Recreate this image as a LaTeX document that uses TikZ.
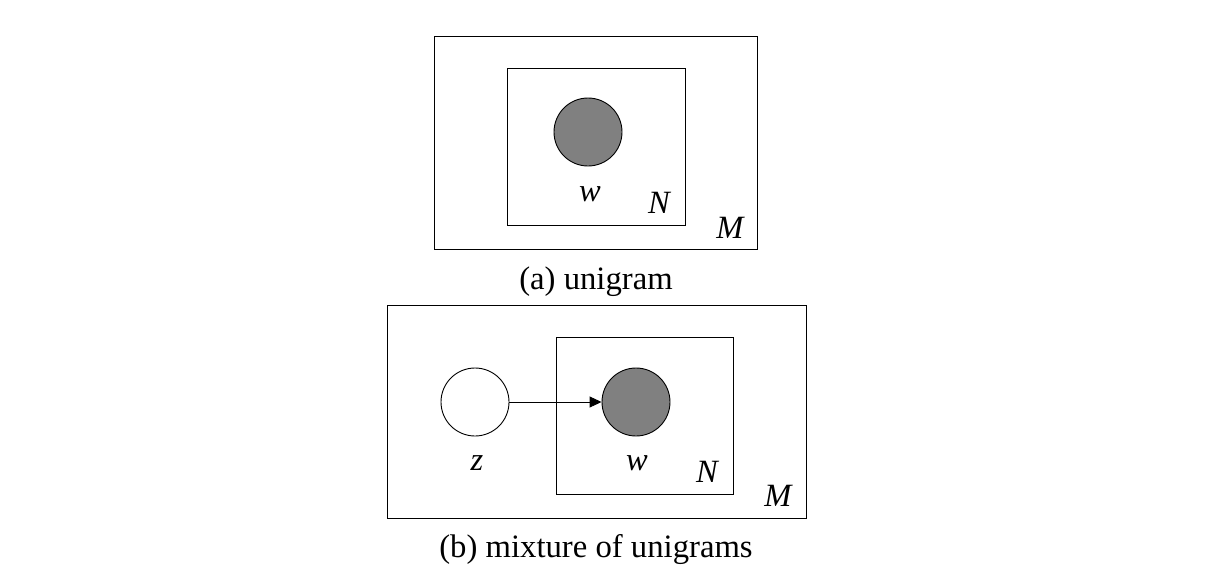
\documentclass[tikz,border=0pt]{standalone}
\usepackage{fontspec}
\setmainfont{Liberation Serif}
\usetikzlibrary{arrows.meta}
\tikzset{
  plate/.style={draw=black, line width=0.9pt, fill=none, inner sep=0pt},
  obsnode/.style={circle, draw=black, line width=0.9pt, fill=black!50, minimum size=68pt, inner sep=0pt},
  latnode/.style={circle, draw=black, line width=0.9pt, fill=white, minimum size=68pt, inner sep=0pt},
  lbl/.style={inner sep=0pt, font=\fontsize{32.5}{38}\selectfont\itshape},
  captext/.style={inner sep=0pt, font=\fontsize{32.7}{39}\selectfont},
  edgearrow/.style={draw=black, line width=0.9pt, -{Triangle[length=12pt,width=11pt]}}
}
\begin{document}
\begin{tikzpicture}[x=1pt,y=-1pt]
\useasboundingbox[fill=white] (0,0) rectangle (1217,570);
% (a) unigram
\node[plate, minimum width=323pt, minimum height=213pt] (aM) at (595.5,142.5) {};
\node[plate, minimum width=178pt, minimum height=157pt] (aN) at (596,146.5) {};
\node[obsnode] (aw) at (588,132) {};
\node[lbl] (awl) at (590,194) {w};
\node[lbl] (aNl) at (659,203) {N};
\node[lbl] (aMl) at (730,228) {M};
\node[captext] (acap) at (596,282) {(a) unigram};
% (b) mixture of unigrams
\node[plate, minimum width=419pt, minimum height=213pt] (bM) at (596.5,411.5) {};
\node[plate, minimum width=177pt, minimum height=157pt] (bN) at (644.5,415.5) {};
\node[latnode] (bz) at (475,402) {};
\node[obsnode] (bw) at (636,402) {};
\node[lbl] (bzl) at (477,463) {z};
\node[lbl] (bwl) at (637,463) {w};
\node[lbl] (bNl) at (707,472) {N};
\node[lbl] (bMl) at (778,496) {M};
\node[captext] (bcap) at (596,550) {(b) mixture of unigrams};
\draw[edgearrow] (bz) -- (bw);
\end{tikzpicture}
\end{document}
